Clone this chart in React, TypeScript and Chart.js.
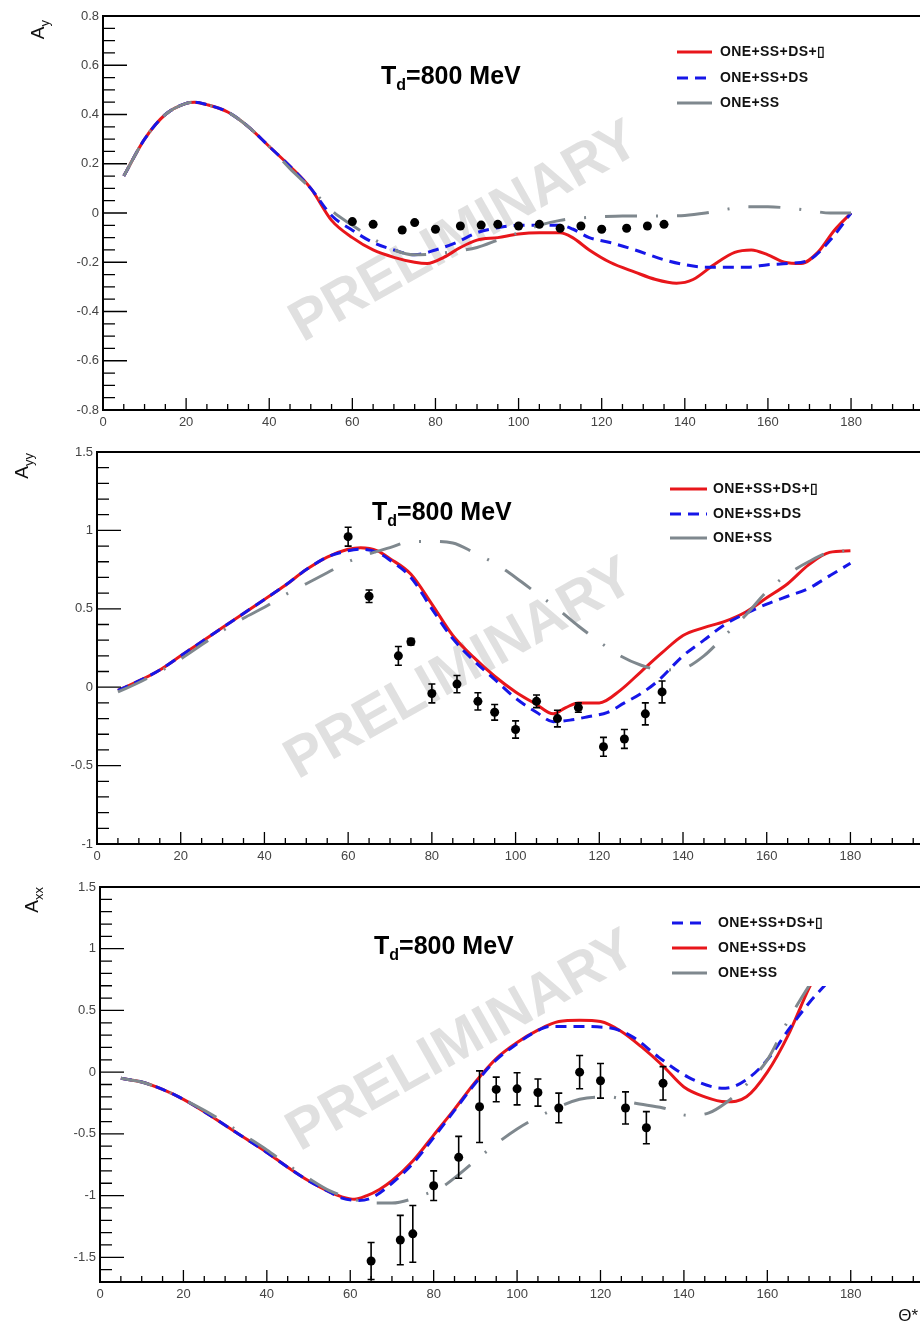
import React, { useEffect, useRef } from "react";
import { Chart, registerables } from "chart.js";
Chart.register(...registerables);

const RED = "#e8161b";
const BLUE = "#1616e8";
const GRAY = "#7f888e";
const FONT = "'Liberation Sans', Arial, Helvetica, sans-serif";
const TICK_COLOR = "#444444";
const BOX = "\u25AF";

// x axis (shared)
const xTickValues = [0, 20, 40, 60, 80, 100, 120, 140, 160, 180, 200];

// ---------- A_y ----------
const ayYTicks = [-0.8, -0.6, -0.4, -0.2, 0, 0.2, 0.4, 0.6, 0.8];
const ayRedTheta = [5,10,15,20,22,25,30,35,40,45,50,55,60,65,70,75,78,82,86,90,95,100,105,110,113,117,122,128,133,138,142,147,152,156,160,164,168,172,176,180];
const ayRedVal = [0.15,0.3,0.4,0.445,0.45,0.44,0.41,0.35,0.27,0.19,0.1,-0.03,-0.1,-0.15,-0.18,-0.2,-0.205,-0.18,-0.14,-0.11,-0.1,-0.085,-0.08,-0.08,-0.1,-0.15,-0.2,-0.24,-0.27,-0.285,-0.27,-0.21,-0.16,-0.15,-0.17,-0.2,-0.205,-0.16,-0.07,0];
const ayBlueTheta = [5,10,15,20,22,25,30,35,40,45,50,55,60,65,70,75,80,85,90,95,100,105,110,113,117,122,128,135,140,145,150,155,160,165,170,175,180];
const ayBlueVal = [0.15,0.3,0.4,0.445,0.45,0.44,0.41,0.35,0.27,0.19,0.1,-0.01,-0.07,-0.12,-0.15,-0.17,-0.15,-0.12,-0.08,-0.06,-0.05,-0.05,-0.05,-0.065,-0.1,-0.12,-0.15,-0.19,-0.21,-0.22,-0.22,-0.22,-0.21,-0.205,-0.19,-0.11,0];
const ayGrayTheta = [5,10,15,20,22,25,30,35,40,45,50,55,60,65,70,75,80,85,90,95,100,105,110,115,120,125,130,135,140,145,150,155,160,165,170,175,180];
const ayGrayVal = [0.15,0.3,0.4,0.445,0.45,0.44,0.41,0.35,0.27,0.18,0.1,0.01,-0.05,-0.105,-0.15,-0.17,-0.165,-0.155,-0.14,-0.11,-0.08,-0.05,-0.03,-0.02,-0.015,-0.012,-0.012,-0.012,-0.01,0,0.015,0.025,0.025,0.02,0.01,0,0];
const ayExpTheta = [60,65,72,75,80,86,91,95,100,105,110,115,120,126,131,135];
const ayExpVal = [-0.035,-0.046,-0.069,-0.039,-0.066,-0.053,-0.049,-0.046,-0.053,-0.046,-0.062,-0.053,-0.066,-0.062,-0.053,-0.046];

// ---------- A_yy ----------
const ayyYTicks = [-1, -0.5, 0, 0.5, 1, 1.5];
const ayyRedTheta = [5,10,15,20,25,30,35,40,45,50,55,60,63,67,70,75,80,85,90,95,100,105,109,112,115,120,125,130,135,140,145,150,155,160,165,170,175,180];
const ayyRedVal = [-0.02,0.04,0.11,0.2,0.29,0.38,0.47,0.56,0.65,0.75,0.83,0.88,0.89,0.87,0.82,0.72,0.53,0.33,0.19,0.07,-0.03,-0.11,-0.17,-0.13,-0.1,-0.1,-0.02,0.1,0.22,0.33,0.38,0.42,0.48,0.57,0.66,0.78,0.86,0.87];
const ayyBlueTheta = [5,10,15,20,25,30,35,40,45,50,55,60,63,67,70,75,80,85,90,95,100,105,109,113,117,122,126,130,134,140,145,150,155,160,165,170,175,180];
const ayyBlueVal = [-0.02,0.04,0.11,0.2,0.29,0.38,0.47,0.56,0.65,0.75,0.83,0.87,0.88,0.86,0.81,0.7,0.5,0.31,0.17,0.05,-0.07,-0.16,-0.22,-0.21,-0.19,-0.16,-0.1,-0.04,0.04,0.2,0.3,0.4,0.47,0.53,0.58,0.63,0.71,0.79];
const ayyGrayTheta = [5,10,15,20,25,30,35,40,45,50,55,60,65,70,75,80,85,90,95,100,105,110,115,120,125,130,135,140,145,150,155,160,165,170,175,180];
const ayyGrayVal = [-0.03,0.03,0.1,0.18,0.27,0.36,0.44,0.51,0.59,0.66,0.73,0.8,0.85,0.89,0.93,0.93,0.92,0.86,0.79,0.7,0.6,0.5,0.39,0.29,0.2,0.14,0.11,0.12,0.2,0.33,0.46,0.61,0.72,0.8,0.86,0.87];
const ayyExpTheta = [60,65,72,75,80,86,91,95,100,105,110,115,121,126,131,135];
const ayyExpVal = [0.96,0.58,0.2,0.29,-0.04,0.02,-0.09,-0.16,-0.27,-0.09,-0.2,-0.13,-0.38,-0.33,-0.17,-0.03];
const ayyExpErr = [0.06,0.04,0.06,0.02,0.06,0.055,0.055,0.05,0.055,0.04,0.053,0.03,0.06,0.06,0.07,0.07];

// ---------- A_xx ----------
const axxYTicks = [-1.5, -1, -0.5, 0, 0.5, 1, 1.5];
const axxRedTheta = [5,10,15,20,25,30,35,40,45,50,55,58,61,64,67,70,75,80,85,90,95,100,105,110,115,120,125,130,135,140,145,150,155,160,165,170,175];
const axxRedVal = [-0.05,-0.08,-0.14,-0.22,-0.32,-0.43,-0.54,-0.65,-0.77,-0.88,-0.97,-1.01,-1.03,-1,-0.95,-0.88,-0.72,-0.51,-0.3,-0.08,0.11,0.24,0.34,0.41,0.42,0.41,0.33,0.2,0.05,-0.12,-0.2,-0.24,-0.2,0,0.3,0.68,1];
const axxBlueTheta = [5,10,15,20,25,30,35,40,45,50,55,58,62,65,70,75,80,85,90,95,100,104,108,114,122,128,134,141,147,150,155,160,165,170,175,180];
const axxBlueVal = [-0.05,-0.08,-0.14,-0.22,-0.32,-0.43,-0.54,-0.65,-0.77,-0.88,-0.97,-1.02,-1.04,-1.02,-0.9,-0.74,-0.53,-0.31,-0.09,0.1,0.23,0.32,0.37,0.37,0.36,0.28,0.12,-0.04,-0.12,-0.13,-0.06,0.1,0.34,0.56,0.75,0.95];
const axxGrayTheta = [5,10,15,20,25,30,35,40,45,50,55,60,65,70,77,82,86,92,100,107,115,122,128,135,141,146,150,155,160,165,170,175];
const axxGrayVal = [-0.05,-0.08,-0.14,-0.22,-0.31,-0.41,-0.52,-0.63,-0.75,-0.86,-0.96,-1.02,-1.06,-1.06,-1,-0.93,-0.83,-0.66,-0.46,-0.33,-0.22,-0.2,-0.25,-0.29,-0.35,-0.33,-0.25,-0.1,0.1,0.42,0.7,0.95];
const axxExpTheta = [65,72,75,80,86,91,95,100,105,110,115,120,126,131,135];
const axxExpVal = [-1.53,-1.36,-1.31,-0.92,-0.69,-0.28,-0.14,-0.135,-0.165,-0.29,0,-0.07,-0.29,-0.45,-0.09];
const axxExpErr = [0.15,0.2,0.23,0.12,0.17,0.29,0.1,0.13,0.11,0.12,0.135,0.14,0.13,0.13,0.135];

const LBL_FULL = "ONE+SS+DS+" + BOX;
const LBL_DS = "ONE+SS+DS";
const LBL_SS = "ONE+SS";
const DASH_BLUE = [11, 7];
const DASH_GRAY = [32, 19, 2, 19];

type Curve = { label: string; theta: number[]; val: number[]; color: string; dash: number[]; order: number };
type LegendItem = { label: string; color: string; dash: number[] };
type Panel = {
  top: number; height: number; yAxisWidth: number; frameTop: number; frameBottom: number;
  yMin: number; yMax: number; yTicks: number[]; yMajor: number; yMinor: number;
  yTitle: string; ySub: string; yTitleX: number; yTitleEnd: number;
  curves: Curve[]; expTheta: number[]; expVal: number[]; expErr: number[] | null;
  legend: LegendItem[]; legendLine: [number, number]; legendTextX: number; legendY: number[];
  legendBox: [number, number, number, number] | null;
  titleX: number; titleY: number; wmX: number; wmY: number; xTitle: [number, number] | null;
};

const panels: Panel[] = [
  {
    top: 0, height: 440, yAxisWidth: 103, frameTop: 16, frameBottom: 410,
    yMin: -0.8, yMax: 0.8, yTicks: ayYTicks, yMajor: 0.2, yMinor: 0.05,
    yTitle: "A", ySub: "y", yTitleX: 44, yTitleEnd: 20,
    curves: [
      { label: LBL_FULL, theta: ayRedTheta, val: ayRedVal, color: RED, dash: [], order: 3 },
      { label: LBL_DS, theta: ayBlueTheta, val: ayBlueVal, color: BLUE, dash: DASH_BLUE, order: 2 },
      { label: LBL_SS, theta: ayGrayTheta, val: ayGrayVal, color: GRAY, dash: DASH_GRAY, order: 1 },
    ],
    expTheta: ayExpTheta, expVal: ayExpVal, expErr: null,
    legend: [
      { label: LBL_FULL, color: RED, dash: [] },
      { label: LBL_DS, color: BLUE, dash: DASH_BLUE },
      { label: LBL_SS, color: GRAY, dash: [] },
    ],
    legendLine: [677, 712], legendTextX: 720, legendY: [52, 78, 103], legendBox: null,
    titleX: 381, titleY: 84, wmX: 465, wmY: 233, xTitle: null,
  },
  {
    top: 440, height: 430, yAxisWidth: 97, frameTop: 12, frameBottom: 404,
    yMin: -1, yMax: 1.5, yTicks: ayyYTicks, yMajor: 0.5, yMinor: 0.1,
    yTitle: "A", ySub: "yy", yTitleX: 28, yTitleEnd: 13,
    curves: [
      { label: LBL_FULL, theta: ayyRedTheta, val: ayyRedVal, color: RED, dash: [], order: 3 },
      { label: LBL_DS, theta: ayyBlueTheta, val: ayyBlueVal, color: BLUE, dash: DASH_BLUE, order: 2 },
      { label: LBL_SS, theta: ayyGrayTheta, val: ayyGrayVal, color: GRAY, dash: DASH_GRAY, order: 1 },
    ],
    expTheta: ayyExpTheta, expVal: ayyExpVal, expErr: ayyExpErr,
    legend: [
      { label: LBL_FULL, color: RED, dash: [] },
      { label: LBL_DS, color: BLUE, dash: DASH_BLUE },
      { label: LBL_SS, color: GRAY, dash: [] },
    ],
    legendLine: [670, 707], legendTextX: 713, legendY: [49, 74, 98], legendBox: null,
    titleX: 372, titleY: 80, wmX: 460, wmY: 230, xTitle: null,
  },
  {
    top: 870, height: 455, yAxisWidth: 100, frameTop: 17, frameBottom: 412,
    yMin: -1.7, yMax: 1.5, yTicks: axxYTicks, yMajor: 0.5, yMinor: 0.1,
    yTitle: "A", ySub: "xx", yTitleX: 38, yTitleEnd: 17,
    curves: [
      { label: LBL_DS, theta: axxRedTheta, val: axxRedVal, color: RED, dash: [], order: 3 },
      { label: LBL_FULL, theta: axxBlueTheta, val: axxBlueVal, color: BLUE, dash: DASH_BLUE, order: 2 },
      { label: LBL_SS, theta: axxGrayTheta, val: axxGrayVal, color: GRAY, dash: DASH_GRAY, order: 1 },
    ],
    expTheta: axxExpTheta, expVal: axxExpVal, expErr: axxExpErr,
    legend: [
      { label: LBL_FULL, color: BLUE, dash: DASH_BLUE },
      { label: LBL_DS, color: RED, dash: [] },
      { label: LBL_SS, color: GRAY, dash: [] },
    ],
    legendLine: [672, 707], legendTextX: 718, legendY: [53, 78, 103], legendBox: [655, 35, 215, 81],
    titleX: 374, titleY: 84, wmX: 462, wmY: 172, xTitle: [918, 451],
  },
];

function fmt(v: number) {
  return String(Math.round(v * 100) / 100);
}

function makeDecor(p: Panel) {
  return {
    id: "decor",
    beforeDatasetsDraw(chart: any) {
      const ctx = chart.ctx as CanvasRenderingContext2D;
      ctx.save();
      ctx.translate(p.wmX, p.wmY);
      ctx.rotate((-29.5 * Math.PI) / 180);
      ctx.font = `bold 57px ${FONT}`;
      ctx.fillStyle = "#e0e0e0";
      ctx.textAlign = "center";
      ctx.textBaseline = "middle";
      ctx.fillText("PRELIMINARY", 0, 0);
      ctx.restore();
    },
    afterDatasetsDraw(chart: any) {
      const ctx = chart.ctx as CanvasRenderingContext2D;
      const xs = chart.scales.x;
      const ys = chart.scales.y;
      const a = chart.chartArea;

      // error bars
      if (p.expErr) {
        ctx.save();
        ctx.strokeStyle = "#000";
        ctx.lineWidth = 1.6;
        p.expTheta.forEach((t, i) => {
          const e = p.expErr![i];
          const px = xs.getPixelForValue(t);
          const y1 = ys.getPixelForValue(p.expVal[i] + e);
          const y2 = ys.getPixelForValue(p.expVal[i] - e);
          ctx.beginPath();
          ctx.moveTo(px, y1); ctx.lineTo(px, y2);
          ctx.moveTo(px - 3.5, y1); ctx.lineTo(px + 3.5, y1);
          ctx.moveTo(px - 3.5, y2); ctx.lineTo(px + 3.5, y2);
          ctx.stroke();
        });
        ctx.restore();
      }

      // legend
      ctx.save();
      if (p.legendBox) {
        ctx.fillStyle = "#fff";
        ctx.fillRect(p.legendBox[0], p.legendBox[1], p.legendBox[2], p.legendBox[3]);
      }
      p.legend.forEach((it, i) => {
        const y = p.legendY[i];
        ctx.strokeStyle = it.color;
        ctx.lineWidth = 3;
        ctx.setLineDash(it.dash);
        ctx.beginPath();
        ctx.moveTo(p.legendLine[0], y);
        ctx.lineTo(p.legendLine[1], y);
        ctx.stroke();
        ctx.setLineDash([]);
        ctx.fillStyle = "#111";
        ctx.font = `bold 14px ${FONT}`;
        (ctx as any).letterSpacing = "0.4px";
        ctx.textAlign = "left";
        ctx.textBaseline = "middle";
        ctx.fillText(it.label, p.legendTextX, y + 0.5);
        (ctx as any).letterSpacing = "0px";
      });
      ctx.restore();

      // frame
      ctx.save();
      ctx.strokeStyle = "#000";
      ctx.lineWidth = 2;
      ctx.strokeRect(a.left, a.top, a.right - a.left, a.bottom - a.top);

      // x ticks (inside)
      ctx.lineWidth = 1.3;
      ctx.beginPath();
      for (let v = 0; v <= 200; v += 5) {
        const px = xs.getPixelForValue(v);
        const len = v % 20 === 0 ? 12 : 6;
        ctx.moveTo(px, a.bottom);
        ctx.lineTo(px, a.bottom - len);
      }
      // y ticks (inside)
      const i0 = Math.ceil(p.yMin / p.yMinor - 1e-6);
      const i1 = Math.floor(p.yMax / p.yMinor + 1e-6);
      for (let i = i0; i <= i1; i++) {
        const v = i * p.yMinor;
        const r = v / p.yMajor;
        const major = Math.abs(r - Math.round(r)) < 1e-6;
        const py = ys.getPixelForValue(v);
        ctx.moveTo(a.left, py);
        ctx.lineTo(a.left + (major ? 24 : 12), py);
      }
      ctx.stroke();
      ctx.restore();
    },
    afterDraw(chart: any) {
      const ctx = chart.ctx as CanvasRenderingContext2D;
      ctx.save();
      // panel title T_d=800 MeV
      ctx.fillStyle = "#000";
      ctx.textBaseline = "alphabetic";
      ctx.textAlign = "left";
      ctx.font = `bold 25px ${FONT}`;
      let x = p.titleX;
      ctx.fillText("T", x, p.titleY);
      x += ctx.measureText("T").width;
      ctx.font = `bold 16px ${FONT}`;
      ctx.fillText("d", x, p.titleY + 6);
      x += ctx.measureText("d").width;
      ctx.font = `bold 25px ${FONT}`;
      ctx.fillText("=800 MeV", x, p.titleY);

      // y-axis title (rotated)
      ctx.translate(p.yTitleX, p.yTitleEnd);
      ctx.rotate(-Math.PI / 2);
      ctx.fillStyle = "#111";
      ctx.textAlign = "left";
      ctx.font = `19px ${FONT}`;
      const wA = ctx.measureText(p.yTitle).width;
      ctx.font = `13px ${FONT}`;
      const wS = ctx.measureText(p.ySub).width;
      ctx.font = `19px ${FONT}`;
      ctx.fillText(p.yTitle, -(wA + wS), 0);
      ctx.font = `13px ${FONT}`;
      ctx.fillText(p.ySub, -wS, 5);
      ctx.restore();

      if (p.xTitle) {
        ctx.save();
        ctx.fillStyle = "#111";
        ctx.font = `17px ${FONT}`;
        ctx.textAlign = "right";
        ctx.textBaseline = "alphabetic";
        ctx.fillText("\u0398*", p.xTitle[0], p.xTitle[1]);
        ctx.restore();
      }
    },
  };
}

function PanelChart({ p }: { p: Panel }) {
  const ref = useRef<HTMLCanvasElement>(null);
  useEffect(() => {
    const canvas = ref.current!;
    const datasets: any[] = p.curves.map((c) => ({
      type: "line",
      label: c.label,
      data: c.theta.map((t, i) => ({ x: t, y: c.val[i] })),
      borderColor: c.color,
      backgroundColor: c.color,
      borderWidth: 3,
      borderDash: c.dash,
      borderCapStyle: "butt",
      pointRadius: 0,
      cubicInterpolationMode: "monotone",
      fill: false,
      order: c.order,
    }));
    datasets.push({
      type: "scatter",
      label: "data",
      data: p.expTheta.map((t, i) => ({ x: t, y: p.expVal[i] })),
      pointRadius: 4.5,
      pointBackgroundColor: "#000",
      pointBorderColor: "#000",
      pointBorderWidth: 0,
      order: 0,
    });
    const tickFont = { family: FONT, size: 13 };
    const chart = new Chart(canvas, {
      type: "line",
      data: { datasets },
      options: {
        animation: false,
        responsive: false,
        devicePixelRatio: 1,
        events: [],
        layout: { padding: { top: p.frameTop, right: 15, left: 0, bottom: 0 } },
        plugins: { legend: { display: false }, tooltip: { enabled: false }, title: { display: false } },
        scales: {
          x: {
            type: "linear",
            min: 0,
            max: 200,
            grid: { display: false, drawTicks: false },
            border: { display: false },
            afterBuildTicks: (s: any) => { s.ticks = xTickValues.map((v) => ({ value: v })); },
            afterFit: (s: any) => { s.height = p.height - p.frameBottom; },
            ticks: { padding: 5, font: tickFont, color: TICK_COLOR, maxRotation: 0, autoSkip: false, callback: (v: any) => fmt(Number(v)) },
          },
          y: {
            type: "linear",
            min: p.yMin,
            max: p.yMax,
            grid: { display: false, drawTicks: false },
            border: { display: false },
            afterBuildTicks: (s: any) => { s.ticks = p.yTicks.map((v) => ({ value: v })); },
            afterFit: (s: any) => { s.width = p.yAxisWidth; },
            ticks: { padding: 4, font: tickFont, color: TICK_COLOR, autoSkip: false, callback: (v: any) => fmt(Number(v)) },
          },
        },
      } as any,
      plugins: [makeDecor(p)],
    });
    return () => chart.destroy();
  }, [p]);
  return (
    <canvas
      ref={ref}
      width={950}
      height={p.height}
      style={{ position: "absolute", left: 0, top: p.top, width: 950, height: p.height, display: "block" }}
    />
  );
}

export default function App() {
  return (
    <div style={{ position: "fixed", left: 0, top: 0, width: 920, height: 1325, overflow: "hidden", background: "#fff" }}>
      {panels.map((p, i) => (
        <PanelChart key={i} p={p} />
      ))}
    </div>
  );
}
